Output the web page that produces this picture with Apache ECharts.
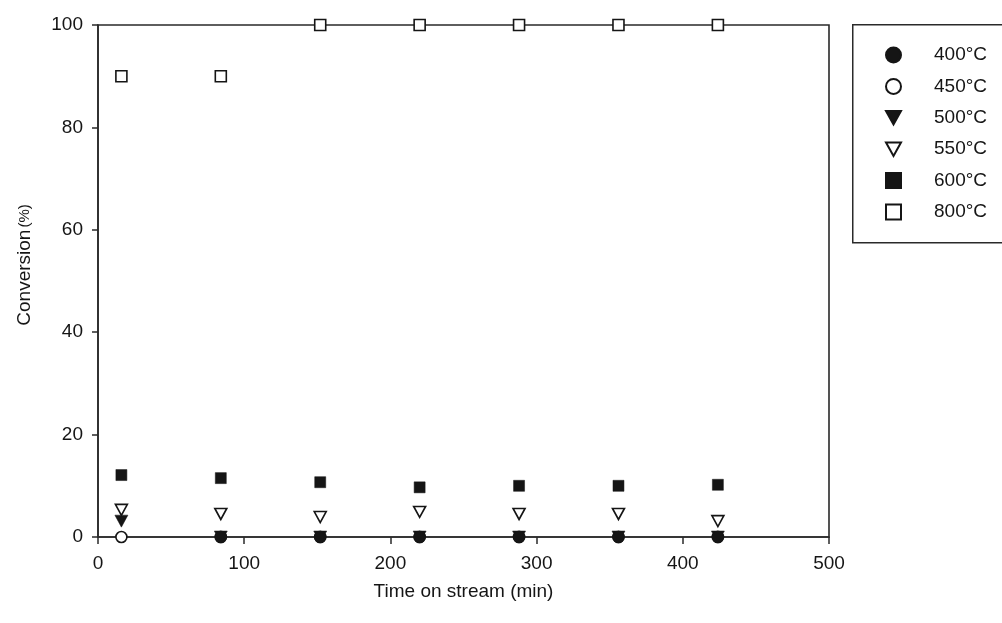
<!DOCTYPE html>
<html>
<head>
<meta charset="utf-8">
<script src="https://cdn.jsdelivr.net/npm/echarts@6/dist/echarts.min.js"></script>
<style>
  html, body { margin: 0; padding: 0; background: #fff; }
  #chart { width: 1002px; height: 623px; }
</style>
</head>
<body>
<div id="chart"></div>
<script>
// Sampling times (min)
const times = [16, 84, 152, 220, 288, 356, 424];

// Conversion (%) at each sampling time, per reaction temperature
const conv400 = [null, 0, 0, 0, 0, 0, 0];
const conv450 = [0, 0, 0, 0, 0, 0, 0];
const conv500 = [3.1, 0, 0, 0, 0, 0, 0];
const conv550 = [5.3, 4.5, 3.9, 4.9, 4.5, 4.5, 3.1];
const conv600 = [12.1, 11.5, 10.7, 9.7, 10.0, 10.0, 10.2];
const conv800 = [90, 90, 100, 100, 100, 100, 100];

const seriesNames = ['400°C', '450°C', '500°C', '550°C', '600°C', '800°C'];

const xTicks = [0, 100, 200, 300, 400, 500];
const yTicks = [0, 20, 40, 60, 80, 100];

const FONT = 'Arial, "Liberation Sans", Helvetica, sans-serif';
const INK = '#151515';
const TRI_DOWN = 'path://M0,0 L10,0 L5,9 Z';

function pairs(vals) {
  return times.map((t, i) => [t, vals[i]]).filter(p => p[1] !== null);
}

function scatter(name, vals, symbol, filled, size, z) {
  return {
    name: name,
    type: 'scatter',
    data: pairs(vals),
    symbol: symbol,
    symbolSize: size,
    z: z,
    itemStyle: filled
      ? { color: INK, borderColor: INK, borderWidth: 0.5, opacity: 1 }
      : { color: '#ffffff', borderColor: INK, borderWidth: 1.6, opacity: 1 },
    emphasis: { disabled: true }
  };
}

const chart = echarts.init(document.getElementById('chart'), null, { renderer: 'canvas' });

chart.setOption({
  animation: false,
  backgroundColor: '#ffffff',
  textStyle: { fontFamily: FONT },
  grid: {
    left: 98, right: 173, top: 25, bottom: 86,
    show: true, borderColor: '#2a2a2a', borderWidth: 1.6, backgroundColor: 'transparent'
  },
  graphic: [{
    type: 'rect',
    left: 852, top: 24,
    shape: { width: 170, height: 218 },
    style: { fill: '#fff', stroke: '#2a2a2a', lineWidth: 1.5 },
    z: 0
  }],
  legend: {
    data: seriesNames,
    orient: 'vertical',
    left: 880, top: 40,
    itemWidth: 15, itemHeight: 15,
    itemGap: 11.4,
    selectedMode: false,
    textStyle: {
      fontFamily: FONT, fontSize: 19, color: INK,
      lineHeight: 20, padding: [0, 0, 0, 28]
    },
    z: 5
  },
  xAxis: {
    type: 'value',
    min: 0, max: 500, interval: 100,
    name: 'Time on stream (min)',
    nameLocation: 'middle',
    nameGap: 45,
    nameTextStyle: { fontFamily: FONT, fontSize: 19, color: INK },
    axisLine: { show: true, onZero: false, lineStyle: { color: '#2a2a2a', width: 1.6 } },
    axisTick: { show: true, inside: false, length: 7, lineStyle: { color: '#2a2a2a', width: 1.5 } },
    axisLabel: {
      margin: 17, fontFamily: FONT, fontSize: 19, color: INK,
      formatter: v => (xTicks.indexOf(v) >= 0 ? String(v) : '')
    },
    splitLine: { show: false }
  },
  yAxis: {
    type: 'value',
    min: 0, max: 100, interval: 20,
    name: '{a|Conversion}{b|(%)}',
    nameLocation: 'middle',
    nameGap: 64,
    nameRotate: 90,
    nameTextStyle: {
      padding: [0, 0, 0, 32],
      rich: {
        a: { fontFamily: FONT, fontSize: 19, color: INK },
        b: { fontFamily: FONT, fontSize: 15, color: INK, padding: [0, 0, 0, 2] }
      }
    },
    axisLine: { show: true, onZero: false, lineStyle: { color: '#2a2a2a', width: 1.6 } },
    axisTick: { show: true, inside: false, length: 6, lineStyle: { color: '#2a2a2a', width: 1.5 } },
    axisLabel: {
      margin: 15, fontFamily: FONT, fontSize: 19, color: INK,
      formatter: v => (yTicks.indexOf(v) >= 0 ? String(v) : '')
    },
    splitLine: { show: false }
  },
  series: [
    scatter(seriesNames[0], conv400, 'circle', true, 12, 8),
    scatter(seriesNames[1], conv450, 'circle', false, 11, 4),
    scatter(seriesNames[2], conv500, TRI_DOWN, true, [13, 12], 6),
    scatter(seriesNames[3], conv550, TRI_DOWN, false, [12, 11], 3),
    scatter(seriesNames[4], conv600, 'rect', true, 11, 3),
    scatter(seriesNames[5], conv800, 'rect', false, 11, 3)
  ]
});
</script>
</body>
</html>
